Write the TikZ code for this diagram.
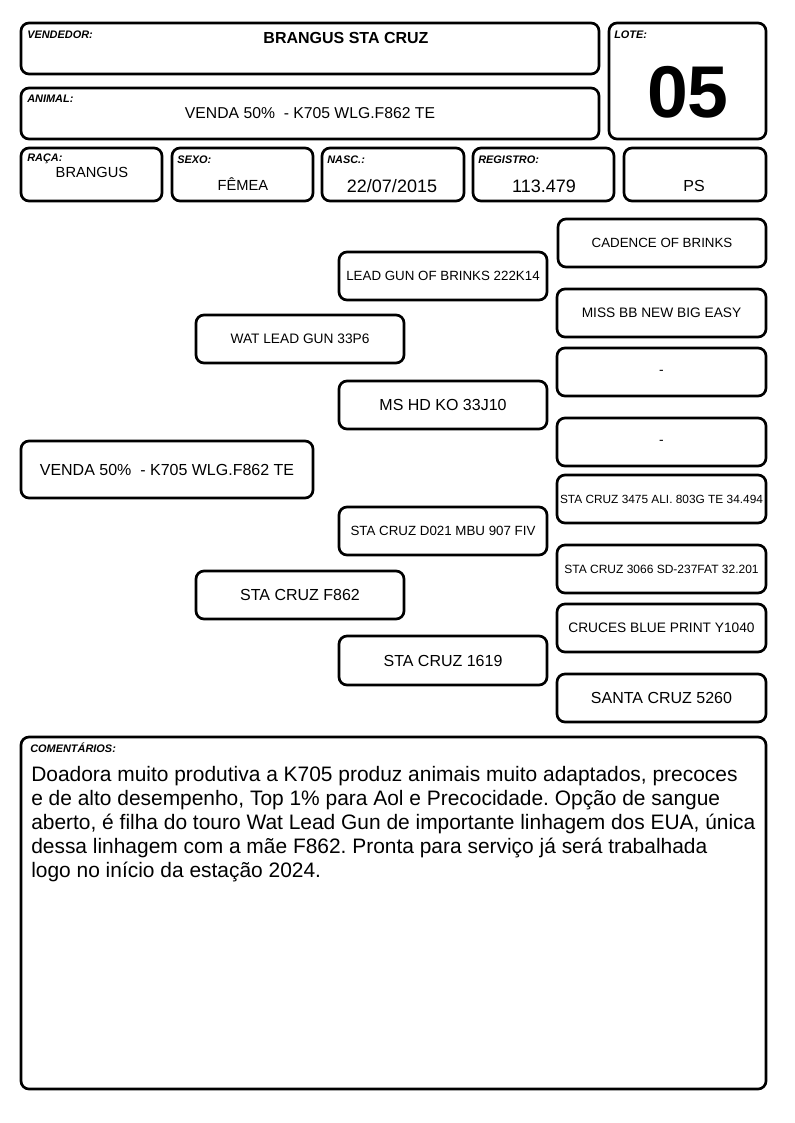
\documentclass[tikz,border=0pt]{standalone}
\usepackage{fontspec}
\setmainfont{Liberation Sans}
\frenchspacing
\newcommand\fbx[6]{\node[box, minimum width={(#4-#2)*0.75pt}, minimum height={(#5-#3)*0.75pt}] (#1) at ({(#2+#4)/2},{(#3+#5)/2}) {#6};}
\newcommand\fsz[1]{\fontsize{#1pt}{#1pt}\selectfont}
\begin{document}
\begin{tikzpicture}[x=0.75pt,y=-0.75pt,
  box/.style={draw=black, line width=2pt, rounded corners=6pt, inner sep=0pt, align=center},
  lbl/.style={anchor=west, inner sep=0pt, font=\fsz{8.2}\bfseries\itshape}]
\useasboundingbox[fill=white] (0,0) rectangle (794,1123);
% header boxes
\fbx{vend}{21}{23}{599}{74}{}
\fbx{lote}{609}{23}{766}{139}{}
\fbx{anim}{21}{88}{599}{139}{}
\fbx{raca}{21}{148}{162}{201}{}
\fbx{sexo}{172}{148}{313}{201}{}
\fbx{nasc}{322}{148}{464}{201}{}
\fbx{reg}{473}{148}{614}{201}{}
\fbx{ps}{624}{148}{766}{201}{}
\node[inner sep=0pt, font=\fsz{12}] (pst) at (694,186) {PS};
\node[lbl] (vendl) at (27,35) {VENDEDOR:};
\node[inner sep=0pt, font=\fsz{12}\bfseries] (vendt) at (346,38) {BRANGUS STA CRUZ};
\node[lbl] (lotel) at (614,35) {LOTE:};
\node[inner sep=0pt, font=\fsz{55}\bfseries] (lotet) at (688,92) {05};
\node[lbl] (animl) at (27,99) {ANIMAL:};
\node[inner sep=0pt, font=\fsz{11.8}] (animt) at (310,113) {VENDA 50\%\ \ - K705 WLG.F862 TE};
\node[lbl] (racal) at (27,159) {RAÇA:};
\node[inner sep=0pt, font=\fsz{11}] (racat) at (92,172) {BRANGUS};
\node[lbl] (sexol) at (177,160) {SEXO:};
\node[inner sep=0pt, font=\fsz{11}] (sexot) at (243,184) {FÊMEA};
\node[lbl] (nascl) at (327,160) {NASC.:};
\node[inner sep=0pt, font=\fsz{13.5}] (nasct) at (392,186) {22/07/2015};
\node[lbl] (regl) at (478,160) {REGISTRO:};
\node[inner sep=0pt, font=\fsz{13.5}] (regt) at (544,186) {113.479};
% pedigree
\fbx{p1}{558}{219}{766}{267}{\fsz{10}CADENCE OF BRINKS}
\fbx{f1}{339}{252}{547}{300}{\fsz{10}LEAD GUN OF BRINKS 222K14}
\fbx{p2}{557}{289}{766}{337}{\fsz{10.3}MISS BB NEW BIG EASY}
\fbx{s}{196}{315}{404}{363}{\fsz{10.3}WAT LEAD GUN 33P6}
\fbx{p3}{557}{348}{766}{396}{\fsz{10.3}-}
\fbx{f2}{339}{381}{547}{429}{\fsz{12}MS HD KO 33J10}
\fbx{p4}{557}{418}{766}{466}{\fsz{10.3}-}
\fbx{main}{21}{441}{313}{498}{\fsz{12}VENDA 50\%\ \ - K705 WLG.F862 TE}
\fbx{p5}{557}{475}{766}{523}{\fsz{8.9}STA CRUZ 3475 ALI. 803G TE 34.494}
\fbx{f3}{339}{507}{547}{555}{\fsz{10}STA CRUZ D021 MBU 907 FIV}
\fbx{p6}{557}{545}{766}{593}{\fsz{9}STA CRUZ 3066 SD-237FAT 32.201}
\fbx{d}{196}{571}{404}{619}{\fsz{12}STA CRUZ F862}
\fbx{p7}{557}{604}{766}{652}{\fsz{10.3}CRUCES BLUE PRINT Y1040}
\fbx{f4}{339}{636}{547}{685}{\fsz{12}STA CRUZ 1619}
\fbx{p8}{557}{674}{766}{722}{\fsz{12}SANTA CRUZ 5260}
% comments
\fbx{com}{21}{737}{766}{1089}{}
\node[lbl] (coml) at (30,748) {COMENTÁRIOS:};
\node[anchor=north west, inner sep=0pt, align=left, font={\fontsize{15.7pt}{18pt}\selectfont}] (comt) at (31,766)
{Doadora muito produtiva a K705 produz animais muito adaptados, precoces\\
e de alto desempenho, Top 1\% para Aol e Precocidade. Opção de sangue\\
aberto, é filha do touro Wat Lead Gun de importante linhagem dos EUA, única\\
dessa linhagem com a mãe F862. Pronta para serviço já será trabalhada\\
logo no início da estação 2024.};
\end{tikzpicture}
\end{document}
